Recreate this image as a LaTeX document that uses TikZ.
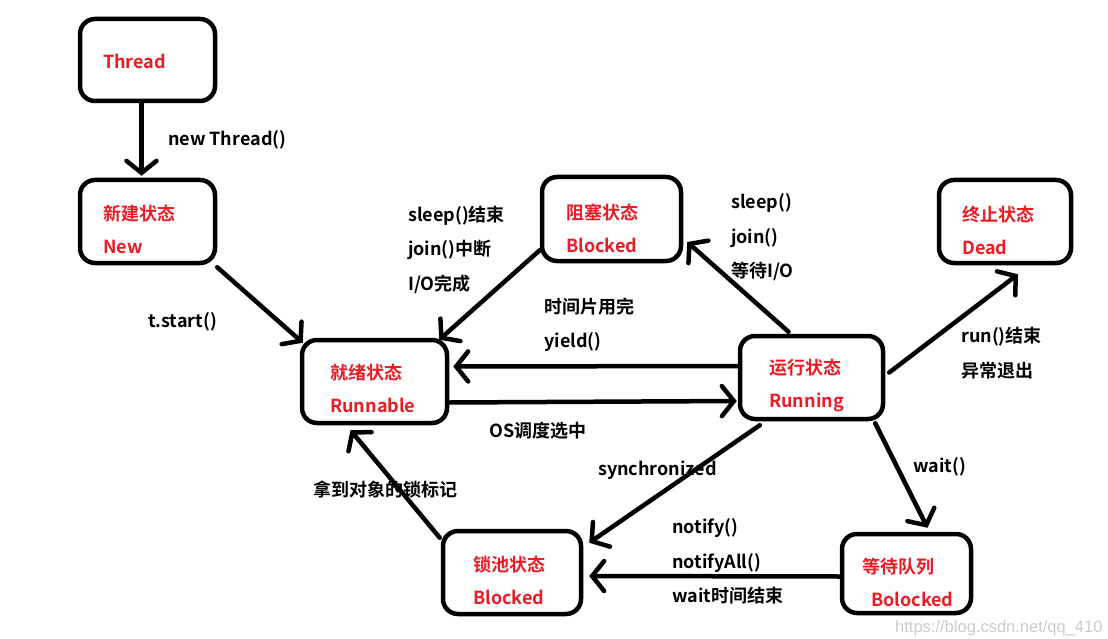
\documentclass[tikz,border=0pt]{standalone}
\usepackage{fontspec}
\setmainfont{Noto Sans CJK SC Bold}
\newfontfamily\markfont{Liberation Sans}
\usetikzlibrary{arrows.meta}
\definecolor{statered}{RGB}{236,28,36}
\tikzset{
  state/.style={draw, line width=4.5pt, rounded corners=15pt, inner sep=0pt},
  stext/.style={text=statered, anchor=west, inner sep=0pt, align=left,
    font=\fontsize{18}{33}\selectfont},
  ltext/.style={text=black, anchor=west, inner sep=0pt, align=left,
    font=\fontsize{18}{34.5}\selectfont},
  arr/.style={line width=4.5pt, line cap=round,
    -{Straight Barb[length=12pt, width=30pt, line width=4.5pt, line cap=round]}},
}
\begin{document}
\begin{tikzpicture}[x=1pt, y=-1pt]
\useasboundingbox[fill=white] (0,0) rectangle (1108,639);

% state boxes
\node[state, minimum width=135pt, minimum height=82pt] (thread)   at (147.5,60)  {};
\node[state, minimum width=135pt, minimum height=83pt] (new)      at (147.5,221.5) {};
\node[state, minimum width=139pt, minimum height=84pt] (blocked)  at (611.5,219) {};
\node[state, minimum width=132pt, minimum height=83pt] (dead)     at (1005,221.5) {};
\node[state, minimum width=145pt, minimum height=83pt] (runnable) at (374.5,381.5) {};
\node[state, minimum width=143pt, minimum height=83pt] (running)  at (811.5,377.5) {};
\node[state, minimum width=138pt, minimum height=83pt] (lockpool) at (512,572.5) {};
\node[state, minimum width=129pt, minimum height=79pt] (waitq)    at (906.5,573.5) {};

% state names
\node[stext] (thread-t)   at (103,61)    {Thread};
\node[stext] (new-t)      at (103,229.5) {新建状态\\New};
\node[stext] (blocked-t)  at (566,228.5) {阻塞状态\\Blocked};
\node[stext] (dead-t)     at (962,230)   {终止状态\\Dead};
\node[stext] (runnable-t) at (330,388)   {就绪状态\\Runnable};
\node[stext] (running-t)  at (769,385)   {运行状态\\Running};
\node[stext] (lockpool-t) at (473,580.5) {锁池状态\\Blocked};
\node[stext] (waitq-t)    at (862,582.5) {等待队列\\\hspace*{9pt}Bolocked};

% transitions
\draw[arr] ([shift={(-6,0)}]thread.south) -- ([shift={(-6,-2)}]new.north);
\draw[arr] ([shift={(0,2)}]new.south east) -- ([shift={(3,5)}]runnable.north west);
\draw[arr] ([shift={(0,-13)}]blocked.south west) -- ([shift={(-10,2)}]runnable.north east);
\draw[arr] ([shift={(-23,-2)}]running.north) -- ([shift={(4,23)}]blocked.east);
\draw[arr] ([shift={(0,-11.5)}]running.west) -- ([shift={(4,-15)}]runnable.east);
\draw[arr] ([shift={(1,21)}]runnable.east) -- ([shift={(-1,23.5)}]running.west);
\draw[arr] ([shift={(4,-5)}]running.east) -- ([shift={(13,9)}]dead.south);
\draw[arr] ([shift={(22,4)}]running.south west) -- ([shift={(6,14)}]lockpool.north east);
\draw[arr] ([shift={(-1,9)}]lockpool.north west) -- ([shift={(-24,5)}]runnable.south);
\draw[arr] ([shift={(-10,2)}]running.south east) -- ([shift={(21,-4)}]waitq.north);
\draw[arr] ([shift={(0,3)}]waitq.west) -- ([shift={(6,3.5)}]lockpool.east);

% transition labels
\node[ltext] (l-new)     at (168,139.5) {new Thread()};
\node[ltext] (l-start)   at (148,321.5) {t.start()};
\node[ltext] (l-wake)    at (408,249.5) {sleep()结束\\join()中断\\I/O完成};
\node[ltext] (l-block)   at (731,237.5) {sleep()\\join()\\等待I/O};
\node[ltext] (l-yield)   at (544,325)   {时间片用完\\yield()};
\node[ltext] (l-os)      at (489,430.5) {OS调度选中};
\node[ltext] (l-end)     at (961,353)   {run()结束\\异常退出};
\node[ltext] (l-sync)    at (598,470.5) {synchronized};
\node[ltext] (l-lock)    at (313,489.5) {拿到对象的锁标记};
\node[ltext] (l-wait)    at (913,466.5) {wait()};
\node[ltext] (l-notify)  at (672,561.5) {notify()\\notifyAll()\\wait时间结束};

% site mark
\node[anchor=west, inner sep=0pt, text=black!20, font=\markfont\fontsize{16.5}{18}\selectfont] (mark) at (895,628) {https://blog.csdn.net/qq\_410};
\end{tikzpicture}
\end{document}
